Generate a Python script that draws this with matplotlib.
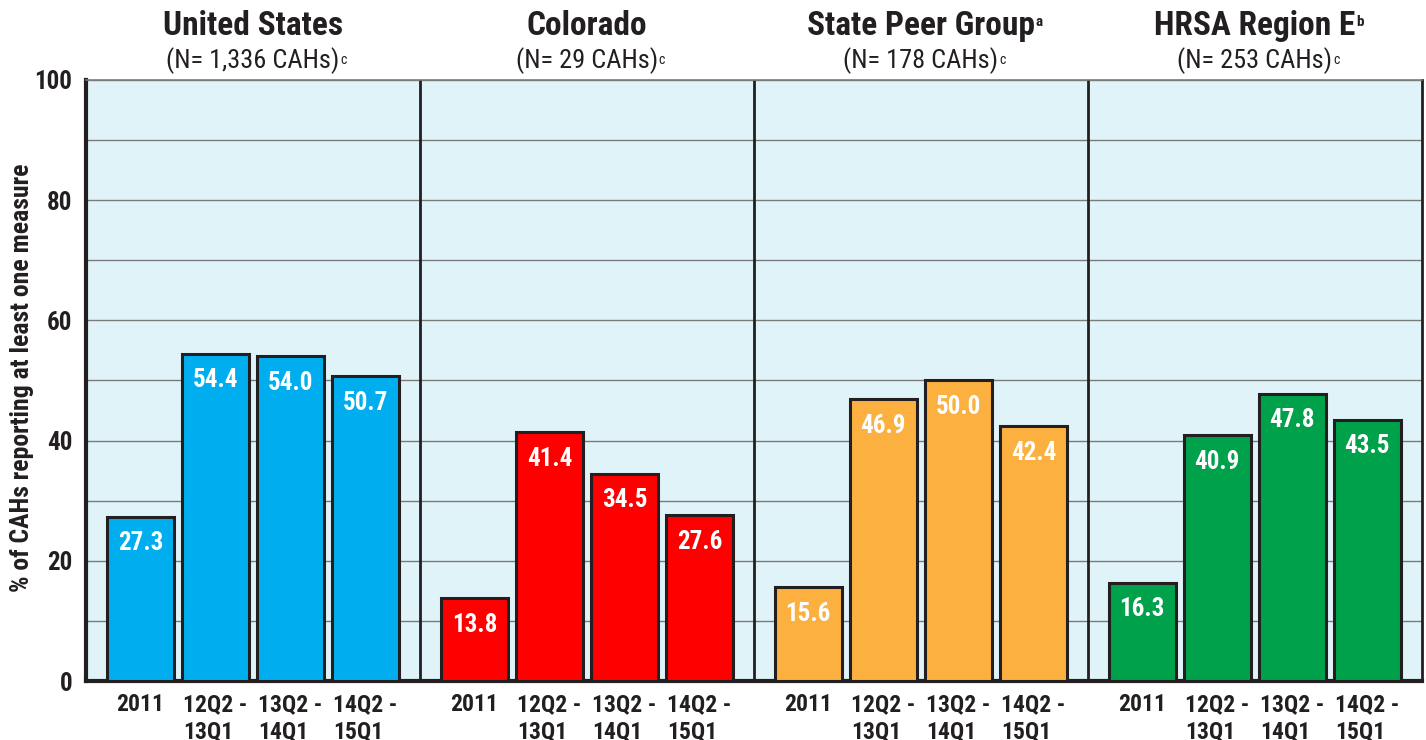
import numpy as np
import matplotlib.pyplot as plt
from matplotlib import font_manager as fm

plt.rcParams['font.family'] = ['Liberation Sans Narrow', 'DejaVu Sans']

groups = ['United States', 'Colorado', 'State Peer Group', 'HRSA Region E']
group_sup = ['', '', 'a', 'b']
group_n = ['(N= 1,336 CAHs)', '(N= 29 CAHs)', '(N= 178 CAHs)', '(N= 253 CAHs)']
periods = ['2011', '12Q2 -\n13Q1', '13Q2 -\n14Q1', '14Q2 -\n15Q1']
values = [
    [27.3, 54.4, 54.0, 50.7],
    [13.8, 41.4, 34.5, 27.6],
    [15.6, 46.9, 50.0, 42.4],
    [16.3, 40.9, 47.8, 43.5],
]
colors = ['#00aeef', '#ff0000', '#fbb040', '#00a14b']


def narrow_font(bold):
    # look for a condensed sans face, the chart uses a narrow Helvetica
    target = 700 if bold else 400
    best, best_score = None, 1e9
    for f in fm.fontManager.ttflist:
        path = f.fname
        low = (f.name + ' ' + path).lower()
        if 'serif' in low or 'mono' in low or f.style != 'normal':
            continue
        st = f.stretch
        narrow = ('narrow' in low or 'condensed' in low
                  or st in ('condensed', 'semi-condensed', 'extra-condensed'))
        if not narrow:
            continue
        w = f.weight if isinstance(f.weight, int) else fm.weight_dict.get(f.weight, 400)
        score = abs(w - target)
        if 'liberation' in low:
            score += 0
        elif 'roboto' in low:
            score += 5
        elif 'dejavu' in low:
            score += 10
        else:
            score += 20
        if 'extra' in low or 'semi' in low or 'ultra' in low:
            score += 50
        if score < best_score:
            best, best_score = path, score
    if best is None:
        return fm.FontProperties(family='DejaVu Sans', weight='bold' if bold else 'normal')
    return fm.FontProperties(fname=best)


fp_b = narrow_font(True)
fp_r = narrow_font(False)
ink = '#231f20'

panel_w = 4.45
fig = plt.figure(figsize=(14.26, 7.40), dpi=100)
ax = fig.add_axes([0.0603, 0.0797, 0.9367, 0.8123])
ax.set_facecolor('#e0f3f9')
ax.set_xlim(0, panel_w * 4)
ax.set_ylim(0, 100)

yt = np.arange(0, 101, 20)
ax.set_yticks(yt)
ax.set_yticklabels([str(v) for v in yt], fontproperties=fp_b, fontsize=18, color=ink)
ax.set_yticks(np.arange(10, 100, 20), minor=True)
ax.grid(axis='y', which='both', color='#7a7a7a', linewidth=1.0, zorder=0)
ax.set_axisbelow(True)
ax.tick_params(axis='y', which='both', length=0, pad=10)
ax.tick_params(axis='x', which='both', length=0)
ax.set_xticks([])

ax.spines['left'].set_linewidth(3)
ax.spines['left'].set_color(ink)
ax.spines['bottom'].set_linewidth(3)
ax.spines['bottom'].set_color(ink)
ax.spines['top'].set_linewidth(1.2)
ax.spines['top'].set_color('#7a7a7a')
ax.spines['right'].set_linewidth(2)
ax.spines['right'].set_color(ink)

for p in range(4):
    x0 = p * panel_w
    xs = x0 + 0.725 + np.arange(4)
    ax.bar(xs, values[p], width=0.89, color=colors[p], edgecolor=ink,
           linewidth=2.2, zorder=3)
    for x, v, lab in zip(xs, values[p], periods):
        ax.text(x, v - 4.4, f'{v:.1f}', ha='center', va='center', color='white',
                fontproperties=fp_b, fontsize=18, zorder=4)
        ax.text(x, -2.0, lab, ha='center', va='top', multialignment='left',
                fontproperties=fp_b, fontsize=17, color=ink, linespacing=1.2)
    if p > 0:
        ax.axvline(x0, color=ink, linewidth=2, zorder=2)
    cx = x0 + panel_w / 2
    t = ax.text(cx, 109.0, groups[p], ha='center', va='center',
                fontproperties=fp_b, fontsize=24, color=ink)
    if group_sup[p]:
        ax.annotate(group_sup[p], xy=(1, 1), xycoords=t, xytext=(0.5, -4),
                    textcoords='offset points', ha='left', va='top',
                    fontproperties=fp_b, fontsize=11, color=ink)
    n = ax.text(cx, 103.2, group_n[p], ha='center', va='center',
                fontproperties=fp_r, fontsize=19, color=ink)
    ax.annotate('c', xy=(1, 1), xycoords=n, xytext=(0.5, -4),
                textcoords='offset points', ha='left', va='top',
                fontproperties=fp_r, fontsize=10, color=ink)

for t in ax.texts:
    t.set_clip_on(False)

fig.text(22 / 1426, 1 - 378 / 740, '% of CAHs reporting at least one measure',
         rotation=90, ha='center', va='center', fontproperties=fp_b,
         fontsize=18.5, color=ink)
fig.savefig('out.png', dpi=100)
